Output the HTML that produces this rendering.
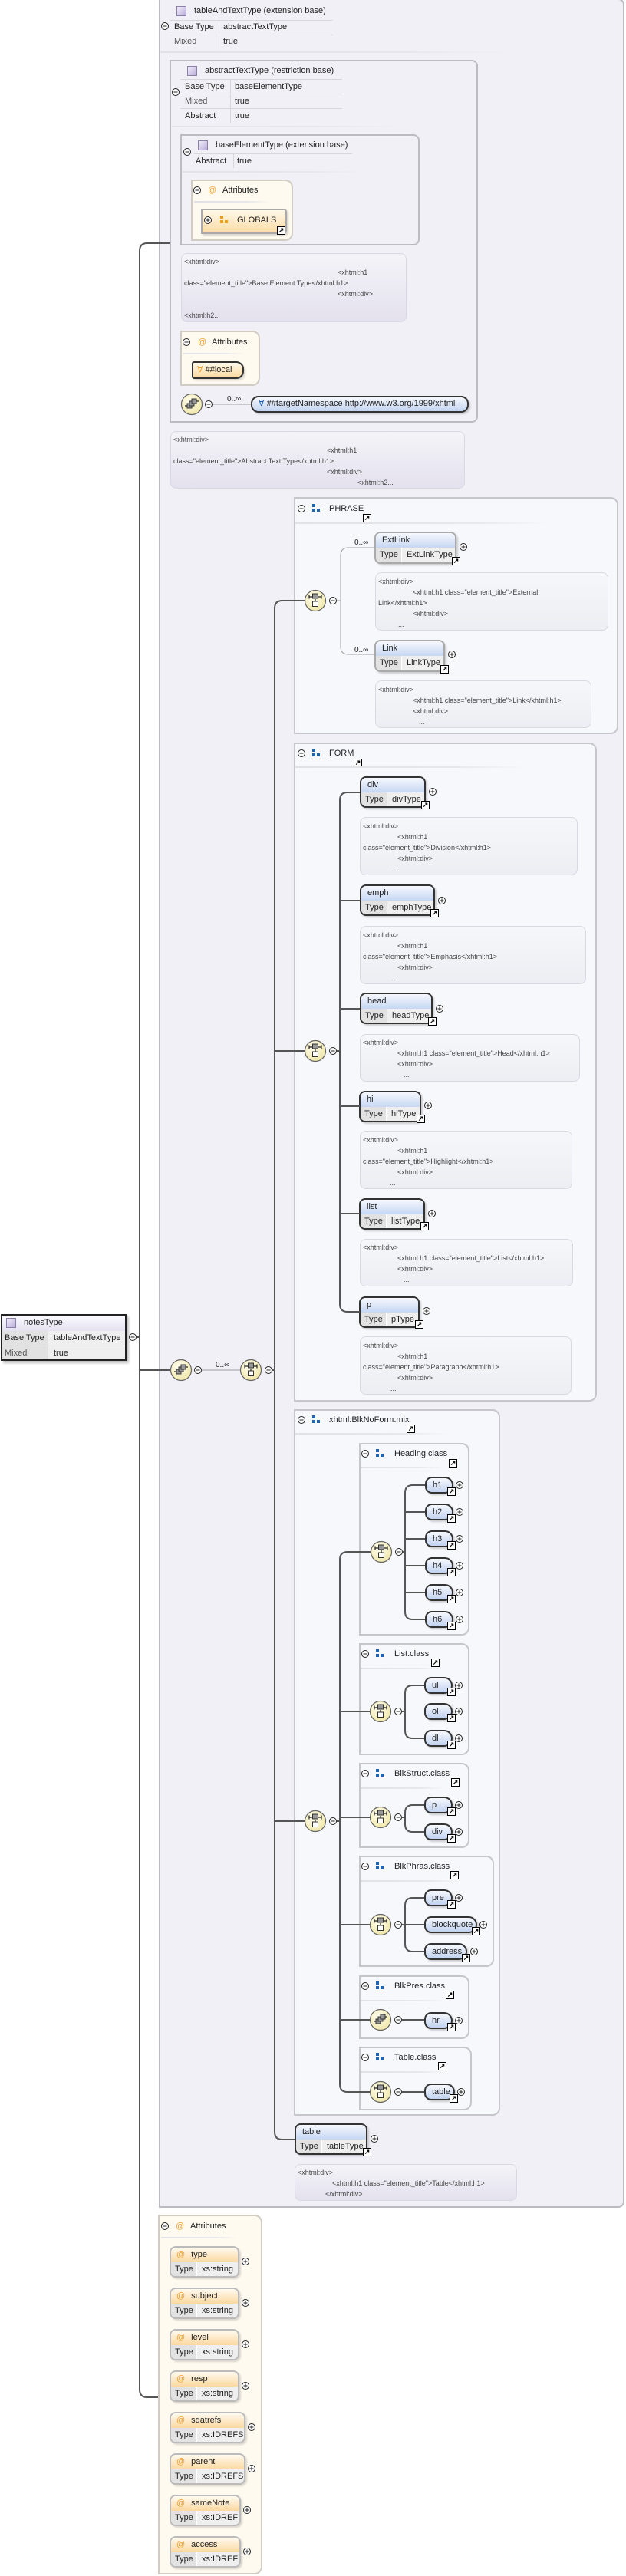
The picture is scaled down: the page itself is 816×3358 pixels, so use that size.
<!DOCTYPE html>
<html><head><meta charset="utf-8"><style>
*{box-sizing:border-box;margin:0;padding:0}
body{width:816px;height:3358px;position:relative;background:#fff;font-family:"Liberation Sans",Arial,sans-serif;font-size:11px;color:#222;overflow:hidden}
.a{position:absolute}
.ct{position:absolute;background:#f1f0f7;border:2px solid #bcbbc3;border-radius:0 8px 8px 0}
.grp{position:absolute;background:#f7f8fc;border:2px solid #c6c6cc;border-radius:0 10px 10px 0}
.atc{position:absolute;background:#fffaf0;border:2px solid #d2cdc4;border-radius:0 10px 10px 0}
.ann{position:absolute;background:linear-gradient(#f4f4f8,#e4e1ee);border:1px solid #dad8e2;border-radius:8px;font-size:9px;color:#444}
.ann span{position:absolute;white-space:nowrap;line-height:11px}
.gann{background:linear-gradient(#f6f7fa,#eceef3)}
.t{position:absolute;white-space:nowrap;line-height:13px}
.sep{position:absolute;height:2px;background:linear-gradient(90deg,#e2e2e6,#e8e8ec 70%,rgba(240,240,240,0))}
.ic{position:absolute;width:13px;height:13px;background:linear-gradient(135deg,#f2effa,#b9add9);border:1px solid #8a80a8}
.row{position:absolute;border-top:1px solid #d8d8dc}
.el{position:absolute;border:2px solid #333;border-radius:8px;overflow:hidden;box-shadow:2px 2px 2px rgba(0,0,0,.18);background:#eee}
.el.op{border-color:#aaa}
.eh{height:19px;background:linear-gradient(#f6f8fd,#c6d7f3);padding-left:8px;line-height:18px;white-space:nowrap}
.er{height:20px;display:flex;line-height:19px;white-space:nowrap}
.er .k{width:34px;background:#e2e2e2;padding-left:5px;border-right:1px solid #fff}
.er .v{flex:1;background:#efefef;padding-left:6px}
.at{position:absolute;border:2px solid #bbb;border-radius:8px;overflow:hidden;box-shadow:2px 2px 2px rgba(0,0,0,.15);background:#eee}
.ah{height:19px;background:linear-gradient(#fffaf0,#fbd8a0);line-height:18px;white-space:nowrap;padding-left:7px}
.ah b{color:#f0a030;font-weight:normal;margin-right:8px}
.se{position:absolute;height:22px;border:2px solid #333;border-radius:9px 11px 11px 9px;background:linear-gradient(#f6f8fd,#c2d3f0);line-height:18px;padding-left:8px;box-shadow:2px 2px 2px rgba(0,0,0,.18)}
.ar{position:absolute;width:11px;height:11px;background:#fff;border:1px solid #000;font-size:9px;line-height:9px;text-align:center;font-weight:bold;color:#000}
.gi{position:absolute;width:10px;height:12px}
.gi i{position:absolute;width:4px;height:4px;background:#1f64b0}
.orange i{background:#f0a010}
.at2{color:#f0a030}
</style></head><body>

<!-- outer complex type -->
<div class="ct" style="left:207px;top:-2px;width:607px;height:2880px"></div>
<div class="ic" style="left:230px;top:8px"></div>
<div class="t" style="left:253px;top:8px">tableAndTextType (extension base)</div>
<div class="row" style="left:221px;top:26px;width:213px"></div>
<div class="row" style="left:221px;top:45px;width:213px"></div>
<div class="a" style="left:285px;top:26px;width:1px;height:38px;background:#d8d8dc"></div>
<div class="t" style="left:227px;top:29px">Base Type</div><div class="t" style="left:291px;top:29px">abstractTextType</div>
<div class="t" style="left:227px;top:48px;color:#555">Mixed</div><div class="t" style="left:291px;top:48px">true</div>
<div class="sep" style="left:209px;top:67px;width:460px"></div>

<div class="ct" style="left:221px;top:78px;width:402px;height:473px"></div>
<div class="ic" style="left:244px;top:86px"></div>
<div class="t" style="left:267px;top:86px">abstractTextType (restriction base)</div>
<div class="row" style="left:235px;top:103px;width:211px"></div>
<div class="row" style="left:235px;top:122px;width:211px"></div>
<div class="row" style="left:235px;top:141px;width:211px"></div>
<div class="a" style="left:300px;top:103px;width:1px;height:57px;background:#d8d8dc"></div>
<div class="t" style="left:241px;top:107px">Base Type</div><div class="t" style="left:306px;top:107px">baseElementType</div>
<div class="t" style="left:241px;top:126px;color:#555">Mixed</div><div class="t" style="left:306px;top:126px">true</div>
<div class="t" style="left:241px;top:145px">Abstract</div><div class="t" style="left:306px;top:145px">true</div>
<div class="sep" style="left:224px;top:164px;width:300px"></div>

<div class="ct" style="left:235px;top:175px;width:312px;height:145px"></div>
<div class="ic" style="left:258px;top:183px"></div>
<div class="t" style="left:281px;top:183px">baseElementType (extension base)</div>
<div class="row" style="left:253px;top:200px;width:206px"></div>
<div class="a" style="left:304px;top:200px;width:1px;height:19px;background:#d8d8dc"></div>
<div class="t" style="left:255px;top:204px">Abstract</div><div class="t" style="left:309px;top:204px">true</div>
<div class="sep" style="left:238px;top:223px;width:240px"></div>

<div class="atc" style="left:249px;top:234px;width:133px;height:80px"></div>
<div class="t at2" style="left:271px;top:242px">@</div>
<div class="t" style="left:290px;top:242px">Attributes</div>
<div class="sep" style="left:253px;top:262px;width:100px"></div>
<div class="a" style="left:262px;top:272px;width:112px;height:33px;border:2px solid #aaa;background:linear-gradient(#fff9ea,#fbdca6);border-radius:0 4px 4px 0;box-shadow:2px 2px 2px rgba(0,0,0,.15)"></div>
<div class="gi orange" style="left:287px;top:281px"><i style="left:0;top:0"></i><i style="left:0;top:6px"></i><i style="left:6px;top:6px"></i></div>
<div class="t" style="left:309px;top:281px">GLOBALS</div>
<div class="ar" style="left:361px;top:295px">↗</div>

<div class="ann" style="left:236px;top:330px;width:294px;height:90px">
<span style="left:3px;top:5px">&lt;xhtml:div&gt;</span>
<span style="left:203px;top:19px">&lt;xhtml:h1</span>
<span style="left:3px;top:33px">class="element_title"&gt;Base Element Type&lt;/xhtml:h1&gt;</span>
<span style="left:203px;top:47px">&lt;xhtml:div&gt;</span>
<span style="left:3px;top:75px">&lt;xhtml:h2...</span>
</div>

<div class="atc" style="left:235px;top:431px;width:104px;height:72px"></div>
<div class="t at2" style="left:258px;top:440px">@</div>
<div class="t" style="left:276px;top:440px">Attributes</div>
<div class="sep" style="left:239px;top:460px;width:80px"></div>
<div class="a" style="left:250px;top:471px;width:68px;height:23px;border:2px solid #333;border-radius:3px 10px 10px 3px;background:linear-gradient(#fff9ea,#fbd9a0);box-shadow:2px 2px 2px rgba(0,0,0,.15)"></div>
<div class="t" style="left:257px;top:476px"><span class="at2">∀</span> ##local</div>

<div class="t" style="left:296px;top:514px;font-size:10px">0..∞</div>
<div class="a" style="left:327px;top:516px;width:284px;height:22px;border:2px solid #333;border-radius:10px;background:linear-gradient(#f6f8fd,#c2d3f0);box-shadow:2px 2px 2px rgba(0,0,0,.18)"></div>
<div class="t" style="left:337px;top:520px"><span style="color:#2060b0">∀</span> ##targetNamespace http://www.w3.org/1999/xhtml</div>

<div class="ann" style="left:222px;top:562px;width:384px;height:75px">
<span style="left:3px;top:5px">&lt;xhtml:div&gt;</span>
<span style="left:203px;top:19px">&lt;xhtml:h1</span>
<span style="left:3px;top:33px">class="element_title"&gt;Abstract Text Type&lt;/xhtml:h1&gt;</span>
<span style="left:203px;top:47px">&lt;xhtml:div&gt;</span>
<span style="left:243px;top:61px">&lt;xhtml:h2...</span>
</div>

<!-- PHRASE -->
<div class="grp" style="left:383px;top:648px;width:423px;height:309px"></div>
<div class="gi" style="left:407px;top:657px"><i style="left:0;top:0"></i><i style="left:0;top:6px"></i><i style="left:6px;top:6px"></i></div>
<div class="t" style="left:429px;top:657px">PHRASE</div>
<div class="ar" style="left:473px;top:670px">↗</div>
<div class="sep" style="left:385px;top:681px;width:330px"></div>
<div class="t" style="left:462px;top:701px;font-size:10px">0..∞</div>
<div class="el op" style="left:488px;top:693px;width:107px;height:42px"><div class="eh">ExtLink</div><div class="er"><span class="k">Type</span><span class="v">ExtLinkType</span></div></div>
<div class="ar" style="left:589px;top:726px">↗</div>
<div class="ann gann" style="left:489px;top:746px;width:304px;height:76px">
<span style="left:3px;top:6px">&lt;xhtml:div&gt;</span>
<span style="left:48px;top:20px">&lt;xhtml:h1 class="element_title"&gt;External</span>
<span style="left:3px;top:34px">Link&lt;/xhtml:h1&gt;</span>
<span style="left:48px;top:48px">&lt;xhtml:div&gt;</span>
<span style="left:29px;top:62px">...</span>
</div>
<div class="t" style="left:462px;top:841px;font-size:10px">0..∞</div>
<div class="el op" style="left:488px;top:834px;width:92px;height:42px"><div class="eh">Link</div><div class="er"><span class="k">Type</span><span class="v">LinkType</span></div></div>
<div class="ar" style="left:574px;top:867px">↗</div>
<div class="ann gann" style="left:489px;top:887px;width:282px;height:62px">
<span style="left:3px;top:6px">&lt;xhtml:div&gt;</span>
<span style="left:48px;top:20px">&lt;xhtml:h1 class="element_title"&gt;Link&lt;/xhtml:h1&gt;</span>
<span style="left:48px;top:34px">&lt;xhtml:div&gt;</span>
<span style="left:56px;top:48px">...</span>
</div>

<!-- FORM -->
<div class="grp" style="left:383px;top:968px;width:395px;height:859px"></div>
<div class="gi" style="left:407px;top:976px"><i style="left:0;top:0"></i><i style="left:0;top:6px"></i><i style="left:6px;top:6px"></i></div>
<div class="t" style="left:429px;top:976px">FORM</div>
<div class="ar" style="left:461px;top:989px">↗</div>
<div class="sep" style="left:385px;top:999px;width:300px"></div>

<div class="el" style="left:469px;top:1012px;width:86px;height:41px"><div class="eh">div</div><div class="er"><span class="k">Type</span><span class="v">divType</span></div></div>
<div class="ar" style="left:549px;top:1044px">↗</div>
<div class="ann gann" style="left:469px;top:1065px;width:284px;height:76px">
<span style="left:3px;top:6px">&lt;xhtml:div&gt;</span><span style="left:48px;top:20px">&lt;xhtml:h1</span>
<span style="left:3px;top:34px">class="element_title"&gt;Division&lt;/xhtml:h1&gt;</span><span style="left:48px;top:48px">&lt;xhtml:div&gt;</span><span style="left:41px;top:62px">...</span></div>

<div class="el" style="left:469px;top:1153px;width:98px;height:41px"><div class="eh">emph</div><div class="er"><span class="k">Type</span><span class="v">emphType</span></div></div>
<div class="ar" style="left:561px;top:1185px">↗</div>
<div class="ann gann" style="left:469px;top:1207px;width:295px;height:76px">
<span style="left:3px;top:6px">&lt;xhtml:div&gt;</span><span style="left:48px;top:20px">&lt;xhtml:h1</span>
<span style="left:3px;top:34px">class="element_title"&gt;Emphasis&lt;/xhtml:h1&gt;</span><span style="left:48px;top:48px">&lt;xhtml:div&gt;</span><span style="left:41px;top:62px">...</span></div>

<div class="el" style="left:469px;top:1294px;width:95px;height:41px"><div class="eh">head</div><div class="er"><span class="k">Type</span><span class="v">headType</span></div></div>
<div class="ar" style="left:558px;top:1326px">↗</div>
<div class="ann gann" style="left:469px;top:1348px;width:287px;height:62px">
<span style="left:3px;top:5px">&lt;xhtml:div&gt;</span><span style="left:48px;top:19px">&lt;xhtml:h1 class="element_title"&gt;Head&lt;/xhtml:h1&gt;</span>
<span style="left:48px;top:33px">&lt;xhtml:div&gt;</span><span style="left:56px;top:47px">...</span></div>

<div class="el" style="left:468px;top:1422px;width:81px;height:41px"><div class="eh">hi</div><div class="er"><span class="k">Type</span><span class="v">hiType</span></div></div>
<div class="ar" style="left:543px;top:1453px">↗</div>
<div class="ann gann" style="left:469px;top:1474px;width:277px;height:76px">
<span style="left:3px;top:6px">&lt;xhtml:div&gt;</span><span style="left:48px;top:20px">&lt;xhtml:h1</span>
<span style="left:3px;top:34px">class="element_title"&gt;Highlight&lt;/xhtml:h1&gt;</span><span style="left:48px;top:48px">&lt;xhtml:div&gt;</span><span style="left:38px;top:62px">...</span></div>

<div class="el" style="left:468px;top:1562px;width:86px;height:41px"><div class="eh">list</div><div class="er"><span class="k">Type</span><span class="v">listType</span></div></div>
<div class="ar" style="left:548px;top:1593px">↗</div>
<div class="ann gann" style="left:469px;top:1615px;width:278px;height:62px">
<span style="left:3px;top:5px">&lt;xhtml:div&gt;</span><span style="left:48px;top:19px">&lt;xhtml:h1 class="element_title"&gt;List&lt;/xhtml:h1&gt;</span>
<span style="left:48px;top:33px">&lt;xhtml:div&gt;</span><span style="left:56px;top:47px">...</span></div>

<div class="el" style="left:468px;top:1690px;width:79px;height:41px"><div class="eh">p</div><div class="er"><span class="k">Type</span><span class="v">pType</span></div></div>
<div class="ar" style="left:541px;top:1721px">↗</div>
<div class="ann gann" style="left:469px;top:1742px;width:276px;height:76px">
<span style="left:3px;top:6px">&lt;xhtml:div&gt;</span><span style="left:48px;top:20px">&lt;xhtml:h1</span>
<span style="left:3px;top:34px">class="element_title"&gt;Paragraph&lt;/xhtml:h1&gt;</span><span style="left:48px;top:48px">&lt;xhtml:div&gt;</span><span style="left:39px;top:62px">...</span></div>

<!-- notesType -->
<div class="a" style="left:1px;top:1713px;width:164px;height:61px;border:2px solid #222;background:#f0f0f2;box-shadow:3px 3px 3px rgba(0,0,0,.25)"></div>
<div class="a" style="left:3px;top:1715px;width:160px;height:20px;background:linear-gradient(#fbfaff,#e5e1f1)"></div>
<div class="ic" style="left:8px;top:1718px"></div>
<div class="t" style="left:31px;top:1718px">notesType</div>
<div class="a" style="left:3px;top:1735px;width:60px;height:37px;background:#e2e2e2"></div>
<div class="a" style="left:64px;top:1735px;width:99px;height:37px;background:#efefef"></div>
<div class="a" style="left:3px;top:1754px;width:160px;height:1px;background:#fff"></div>
<div class="t" style="left:6px;top:1738px">Base Type</div><div class="t" style="left:70px;top:1738px">tableAndTextType</div>
<div class="t" style="left:6px;top:1758px;color:#555">Mixed</div><div class="t" style="left:70px;top:1758px">true</div>
<div class="t" style="left:281px;top:1773px;font-size:10px">0..∞</div>

<!-- BlkNoForm -->
<div class="grp" style="left:383px;top:1837px;width:269px;height:921px"></div>
<div class="gi" style="left:407px;top:1845px"><i style="left:0;top:0"></i><i style="left:0;top:6px"></i><i style="left:6px;top:6px"></i></div>
<div class="t" style="left:429px;top:1845px">xhtml:BlkNoForm.mix</div>
<div class="ar" style="left:530px;top:1857px">↗</div>
<div class="sep" style="left:385px;top:1868px;width:200px"></div>

<div class="grp" style="left:468px;top:1881px;width:144px;height:251px"></div>
<div class="gi" style="left:490px;top:1889px"><i style="left:0;top:0"></i><i style="left:0;top:6px"></i><i style="left:6px;top:6px"></i></div>
<div class="t" style="left:514px;top:1889px">Heading.class</div>
<div class="ar" style="left:585px;top:1902px">↗</div>
<div class="sep" style="left:470px;top:1912px;width:110px"></div>
<div class="se" style="left:554px;top:1925px;width:37px">h1</div><div class="ar" style="left:583px;top:1939px">↗</div>
<div class="se" style="left:554px;top:1960px;width:37px">h2</div><div class="ar" style="left:583px;top:1974px">↗</div>
<div class="se" style="left:554px;top:1995px;width:37px">h3</div><div class="ar" style="left:583px;top:2009px">↗</div>
<div class="se" style="left:554px;top:2030px;width:37px">h4</div><div class="ar" style="left:583px;top:2044px">↗</div>
<div class="se" style="left:554px;top:2065px;width:37px">h5</div><div class="ar" style="left:583px;top:2079px">↗</div>
<div class="se" style="left:554px;top:2100px;width:37px">h6</div><div class="ar" style="left:583px;top:2114px">↗</div>

<div class="grp" style="left:468px;top:2142px;width:144px;height:146px"></div>
<div class="gi" style="left:490px;top:2150px"><i style="left:0;top:0"></i><i style="left:0;top:6px"></i><i style="left:6px;top:6px"></i></div>
<div class="t" style="left:514px;top:2150px">List.class</div>
<div class="ar" style="left:562px;top:2162px">↗</div>
<div class="sep" style="left:470px;top:2174px;width:110px"></div>
<div class="se" style="left:553px;top:2186px;width:37px">ul</div><div class="ar" style="left:583px;top:2200px">↗</div>
<div class="se" style="left:553px;top:2220px;width:37px">ol</div><div class="ar" style="left:583px;top:2234px">↗</div>
<div class="se" style="left:553px;top:2255px;width:37px">dl</div><div class="ar" style="left:583px;top:2269px">↗</div>

<div class="grp" style="left:468px;top:2298px;width:144px;height:111px"></div>
<div class="gi" style="left:490px;top:2306px"><i style="left:0;top:0"></i><i style="left:0;top:6px"></i><i style="left:6px;top:6px"></i></div>
<div class="t" style="left:514px;top:2306px">BlkStruct.class</div>
<div class="ar" style="left:588px;top:2318px">↗</div>
<div class="sep" style="left:470px;top:2330px;width:110px"></div>
<div class="se" style="left:553px;top:2342px;width:37px">p</div><div class="ar" style="left:583px;top:2356px">↗</div>
<div class="se" style="left:553px;top:2377px;width:37px">div</div><div class="ar" style="left:583px;top:2391px">↗</div>

<div class="grp" style="left:468px;top:2419px;width:176px;height:145px"></div>
<div class="gi" style="left:490px;top:2427px"><i style="left:0;top:0"></i><i style="left:0;top:6px"></i><i style="left:6px;top:6px"></i></div>
<div class="t" style="left:514px;top:2427px">BlkPhras.class</div>
<div class="ar" style="left:587px;top:2439px">↗</div>
<div class="sep" style="left:470px;top:2451px;width:130px"></div>
<div class="se" style="left:553px;top:2463px;width:37px">pre</div><div class="ar" style="left:583px;top:2477px">↗</div>
<div class="se" style="left:553px;top:2498px;width:69px">blockquote</div><div class="ar" style="left:615px;top:2512px">↗</div>
<div class="se" style="left:553px;top:2533px;width:56px">address</div><div class="ar" style="left:602px;top:2547px">↗</div>

<div class="grp" style="left:468px;top:2575px;width:144px;height:83px"></div>
<div class="gi" style="left:490px;top:2583px"><i style="left:0;top:0"></i><i style="left:0;top:6px"></i><i style="left:6px;top:6px"></i></div>
<div class="t" style="left:514px;top:2583px">BlkPres.class</div>
<div class="ar" style="left:581px;top:2595px">↗</div>
<div class="sep" style="left:470px;top:2607px;width:110px"></div>
<div class="se" style="left:553px;top:2623px;width:37px">hr</div><div class="ar" style="left:583px;top:2637px">↗</div>

<div class="grp" style="left:468px;top:2668px;width:147px;height:83px"></div>
<div class="gi" style="left:490px;top:2676px"><i style="left:0;top:0"></i><i style="left:0;top:6px"></i><i style="left:6px;top:6px"></i></div>
<div class="t" style="left:514px;top:2676px">Table.class</div>
<div class="ar" style="left:571px;top:2688px">↗</div>
<div class="sep" style="left:470px;top:2700px;width:110px"></div>
<div class="se" style="left:553px;top:2716px;width:40px">table</div><div class="ar" style="left:586px;top:2730px">↗</div>

<!-- table element -->
<div class="el" style="left:384px;top:2768px;width:95px;height:41px"><div class="eh">table</div><div class="er"><span class="k">Type</span><span class="v">tableType</span></div></div>
<div class="ar" style="left:473px;top:2800px">↗</div>
<div class="ann" style="left:384px;top:2821px;width:290px;height:48px">
<span style="left:3px;top:5px">&lt;xhtml:div&gt;</span>
<span style="left:48px;top:19px">&lt;xhtml:h1 class="element_title"&gt;Table&lt;/xhtml:h1&gt;</span>
<span style="left:39px;top:33px">&lt;/xhtml:div&gt;</span></div>

<!-- Attributes bottom -->
<div class="atc" style="left:206px;top:2887px;width:136px;height:469px"></div>
<div class="t at2" style="left:229px;top:2896px">@</div>
<div class="t" style="left:248px;top:2896px">Attributes</div>
<div class="sep" style="left:210px;top:2916px;width:100px"></div>
<div class="at" style="left:221px;top:2928px;width:91px;height:41px"><div class="ah"><b>@</b>type</div><div class="er"><span class="k">Type</span><span class="v">xs:string</span></div></div>
<div class="at" style="left:221px;top:2982px;width:91px;height:41px"><div class="ah"><b>@</b>subject</div><div class="er"><span class="k">Type</span><span class="v">xs:string</span></div></div>
<div class="at" style="left:221px;top:3036px;width:91px;height:41px"><div class="ah"><b>@</b>level</div><div class="er"><span class="k">Type</span><span class="v">xs:string</span></div></div>
<div class="at" style="left:221px;top:3090px;width:91px;height:41px"><div class="ah"><b>@</b>resp</div><div class="er"><span class="k">Type</span><span class="v">xs:string</span></div></div>
<div class="at" style="left:221px;top:3144px;width:99px;height:41px"><div class="ah"><b>@</b>sdatrefs</div><div class="er"><span class="k">Type</span><span class="v">xs:IDREFS</span></div></div>
<div class="at" style="left:221px;top:3198px;width:99px;height:41px"><div class="ah"><b>@</b>parent</div><div class="er"><span class="k">Type</span><span class="v">xs:IDREFS</span></div></div>
<div class="at" style="left:221px;top:3252px;width:93px;height:41px"><div class="ah"><b>@</b>sameNote</div><div class="er"><span class="k">Type</span><span class="v">xs:IDREF</span></div></div>
<div class="at" style="left:221px;top:3306px;width:93px;height:41px"><div class="ah"><b>@</b>access</div><div class="er"><span class="k">Type</span><span class="v">xs:IDREF</span></div></div>

<svg class="a" style="left:0;top:0" width="816" height="3358" viewBox="0 0 816 3358">
<defs>
<radialGradient id="yg" cx="40%" cy="35%" r="70%"><stop offset="0" stop-color="#fffef0"/><stop offset="1" stop-color="#efe6a6"/></radialGradient>
<symbol id="ch" viewBox="-15 -15 30 30" overflow="visible"><circle r="13.5" fill="url(#yg)" stroke="#666" stroke-width="1.2"/><path d="M-8,-5H8M-8,-7.5V-2.5M8,-7.5V-2.5M0,-2V1" stroke="#222" stroke-width="1.2" fill="none"/><rect x="-3.5" y="-9" width="7" height="6" fill="#999" stroke="#333"/><rect x="-3.5" y="1" width="7" height="6.5" fill="#fff" stroke="#333"/></symbol>
<symbol id="sq" viewBox="-15 -15 30 30" overflow="visible"><circle r="13.5" fill="url(#yg)" stroke="#666" stroke-width="1.2"/><path d="M-9,2H-5M5,-4H9" stroke="#222" stroke-width="1.2"/><rect x="-6" y="-1" width="6" height="6" fill="#999" stroke="#333"/><rect x="-3" y="-4" width="6" height="6" fill="#999" stroke="#333"/><rect x="0" y="-7" width="6" height="6" fill="#999" stroke="#333"/></symbol>
<symbol id="mi" viewBox="-6 -6 12 12" overflow="visible"><circle r="4.5" fill="#fff" stroke="#222"/><path d="M-2.5,0H2.5" stroke="#222"/></symbol>
<symbol id="pl" viewBox="-6 -6 12 12" overflow="visible"><circle r="4.5" fill="#fff" stroke="#222"/><path d="M-2.5,0H2.5M0,-2.5V2.5" stroke="#222"/></symbol>
</defs>
<g fill="none" stroke="#555" stroke-width="2">
<path d="M221,317H192Q182,317 182,327V3115Q182,3125 192,3125H206"/>
<path d="M178,1743H182M182,1786H222"/>
<path d="M397,783H368Q358,783 358,793V2779Q358,2789 368,2789H384"/>
<path d="M355,1786H358M358,1370H397M358,2374H397"/>
<path d="M439,1370H443M469,1033H453Q443,1033 443,1043V1700Q443,1710 453,1710H469M443,1174H469M443,1315H469M443,1442H469M443,1582H469"/>
<path d="M439,2374H443M483,2023H453Q443,2023 443,2033V2717Q443,2727 453,2727H483M443,2231H482M443,2369H482M443,2509H482M443,2633H482"/>
<path d="M525,2023H528M554,1936H538Q528,1936 528,1946V2101Q528,2111 538,2111H554M528,1971H554M528,2006H554M528,2041H554M528,2076H554"/>
<path d="M524,2231H528M553,2197H538Q528,2197 528,2207V2256Q528,2266 538,2266H553"/>
<path d="M524,2369H528M553,2353H538Q528,2353 528,2363V2378Q528,2388 538,2388H553"/>
<path d="M524,2509H553M553,2474H538Q528,2474 528,2484V2534Q528,2544 538,2544H553"/>
<path d="M524,2633H553M524,2727H553"/>
</g>
<g fill="none" stroke="#a0a0a0" stroke-width="1">
<path d="M277,527H327M263,1786H313"/>
<path d="M439,783H444M489,714H454Q444,714 444,724V843Q444,853 454,853H489"/>
</g>
<use href="#sq" x="250" y="527" width="30" height="30" transform="translate(-15,-15)"/>
<use href="#ch" x="411" y="783" width="30" height="30" transform="translate(-15,-15)"/>
<use href="#ch" x="411" y="1370" width="30" height="30" transform="translate(-15,-15)"/>
<use href="#sq" x="236" y="1786" width="30" height="30" transform="translate(-15,-15)"/>
<use href="#ch" x="327" y="1786" width="30" height="30" transform="translate(-15,-15)"/>
<use href="#ch" x="411" y="2374" width="30" height="30" transform="translate(-15,-15)"/>
<use href="#ch" x="497" y="2023" width="30" height="30" transform="translate(-15,-15)"/>
<use href="#ch" x="496" y="2231" width="30" height="30" transform="translate(-15,-15)"/>
<use href="#ch" x="496" y="2369" width="30" height="30" transform="translate(-15,-15)"/>
<use href="#ch" x="496" y="2509" width="30" height="30" transform="translate(-15,-15)"/>
<use href="#sq" x="496" y="2633" width="30" height="30" transform="translate(-15,-15)"/>
<use href="#ch" x="496" y="2727" width="30" height="30" transform="translate(-15,-15)"/>
<g transform="translate(-6,-6)">
<use href="#mi" x="215" y="34" width="12" height="12"/><use href="#mi" x="229" y="120" width="12" height="12"/>
<use href="#mi" x="244" y="198" width="12" height="12"/><use href="#mi" x="257" y="248" width="12" height="12"/>
<use href="#mi" x="243" y="446" width="12" height="12"/><use href="#mi" x="272" y="527" width="12" height="12"/>
<use href="#mi" x="173" y="1743" width="12" height="12"/><use href="#mi" x="258" y="1786" width="12" height="12"/>
<use href="#mi" x="350" y="1786" width="12" height="12"/><use href="#mi" x="393" y="663" width="12" height="12"/>
<use href="#mi" x="434" y="783" width="12" height="12"/><use href="#mi" x="393" y="982" width="12" height="12"/>
<use href="#mi" x="434" y="1370" width="12" height="12"/><use href="#mi" x="393" y="1851" width="12" height="12"/>
<use href="#mi" x="434" y="2374" width="12" height="12"/>
<use href="#mi" x="476" y="1895" width="12" height="12"/><use href="#mi" x="520" y="2023" width="12" height="12"/>
<use href="#mi" x="476" y="2156" width="12" height="12"/><use href="#mi" x="519" y="2231" width="12" height="12"/>
<use href="#mi" x="476" y="2312" width="12" height="12"/><use href="#mi" x="519" y="2369" width="12" height="12"/>
<use href="#mi" x="476" y="2433" width="12" height="12"/><use href="#mi" x="519" y="2509" width="12" height="12"/>
<use href="#mi" x="476" y="2589" width="12" height="12"/><use href="#mi" x="519" y="2633" width="12" height="12"/>
<use href="#mi" x="476" y="2682" width="12" height="12"/><use href="#mi" x="519" y="2727" width="12" height="12"/>
<use href="#mi" x="215" y="2902" width="12" height="12"/>
<use href="#pl" x="271" y="287" width="12" height="12"/><use href="#pl" x="604" y="713" width="12" height="12"/>
<use href="#pl" x="589" y="853" width="12" height="12"/><use href="#pl" x="564" y="1032" width="12" height="12"/>
<use href="#pl" x="576" y="1174" width="12" height="12"/><use href="#pl" x="573" y="1315" width="12" height="12"/>
<use href="#pl" x="558" y="1441" width="12" height="12"/><use href="#pl" x="563" y="1582" width="12" height="12"/>
<use href="#pl" x="556" y="1709" width="12" height="12"/>
<use href="#pl" x="599" y="1936" width="12" height="12"/><use href="#pl" x="599" y="1971" width="12" height="12"/>
<use href="#pl" x="599" y="2006" width="12" height="12"/><use href="#pl" x="599" y="2041" width="12" height="12"/>
<use href="#pl" x="599" y="2076" width="12" height="12"/><use href="#pl" x="599" y="2111" width="12" height="12"/>
<use href="#pl" x="598" y="2197" width="12" height="12"/><use href="#pl" x="598" y="2231" width="12" height="12"/>
<use href="#pl" x="598" y="2266" width="12" height="12"/><use href="#pl" x="598" y="2353" width="12" height="12"/>
<use href="#pl" x="598" y="2388" width="12" height="12"/><use href="#pl" x="598" y="2474" width="12" height="12"/>
<use href="#pl" x="630" y="2509" width="12" height="12"/><use href="#pl" x="618" y="2544" width="12" height="12"/>
<use href="#pl" x="598" y="2634" width="12" height="12"/><use href="#pl" x="601" y="2727" width="12" height="12"/>
<use href="#pl" x="488" y="2788" width="12" height="12"/>
<use href="#pl" x="320" y="2948" width="12" height="12"/><use href="#pl" x="320" y="3002" width="12" height="12"/>
<use href="#pl" x="320" y="3056" width="12" height="12"/><use href="#pl" x="320" y="3110" width="12" height="12"/>
<use href="#pl" x="328" y="3164" width="12" height="12"/><use href="#pl" x="328" y="3218" width="12" height="12"/>
<use href="#pl" x="322" y="3272" width="12" height="12"/><use href="#pl" x="322" y="3326" width="12" height="12"/>
</g>
</svg>
</body></html>
